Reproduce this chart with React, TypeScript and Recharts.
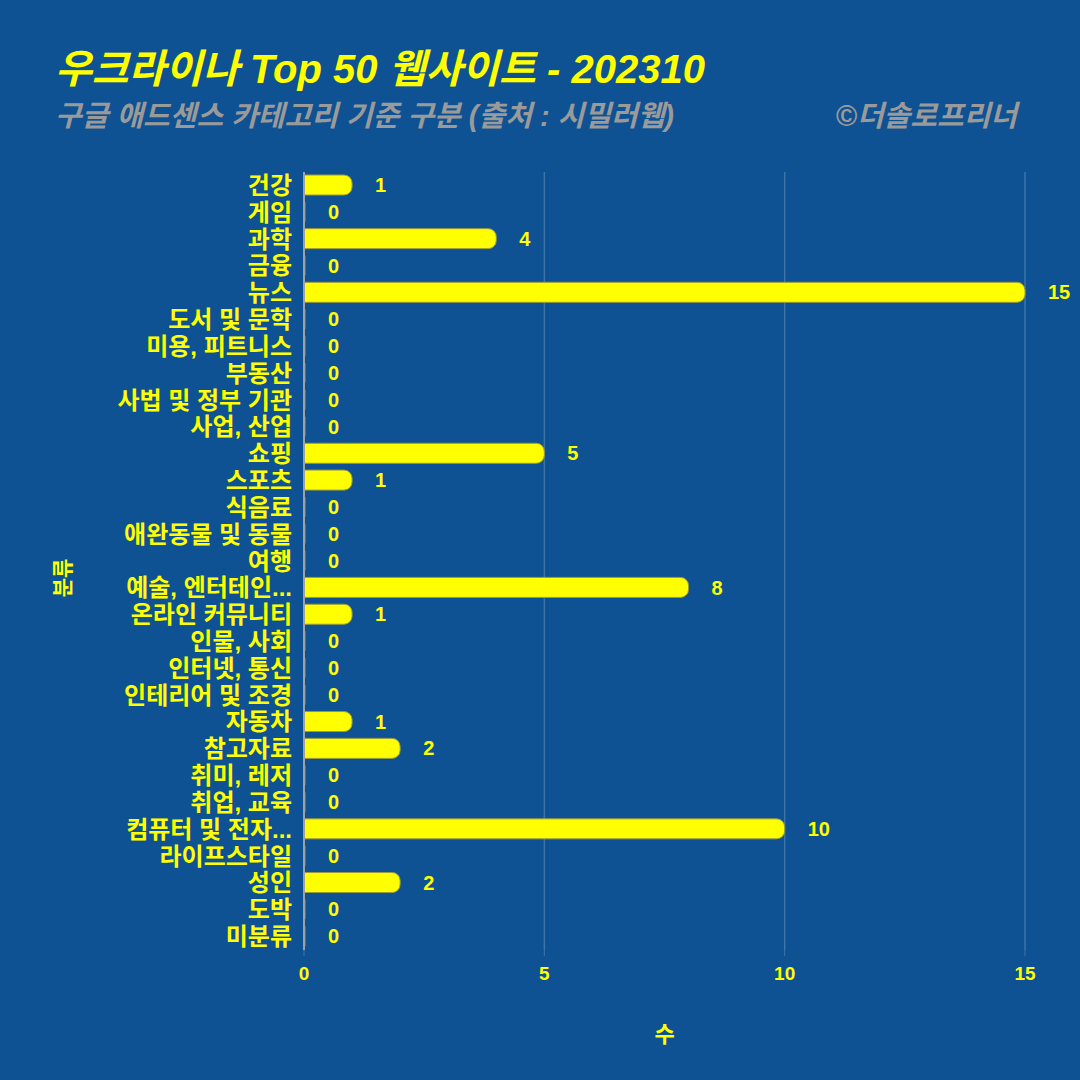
import React from 'react';
import { BarChart, Bar, XAxis, YAxis, CartesianGrid, LabelList } from 'recharts';

const categories = [
  '건강', '게임', '과학', '금융', '뉴스', '도서 및 문학', '미용, 피트니스', '부동산',
  '사법 및 정부 기관', '사업, 산업', '쇼핑', '스포츠', '식음료', '애완동물 및 동물', '여행',
  '예술, 엔터테인...', '온라인 커뮤니티', '인물, 사회', '인터넷, 통신', '인테리어 및 조경',
  '자동차', '참고자료', '취미, 레저', '취업, 교육', '컴퓨터 및 전자...', '라이프스타일',
  '성인', '도박', '미분류',
];
const counts = [1, 0, 4, 0, 15, 0, 0, 0, 0, 0, 5, 1, 0, 0, 0, 8, 1, 0, 0, 0, 1, 2, 0, 0, 10, 0, 2, 0, 0];
const xTicks = [0, 5, 10, 15];

const data = categories.map((name, i) => ({ name, value: counts[i] }));

const FONT = '"Liberation Sans", "Noto Sans CJK KR", sans-serif';
const YELLOW = '#FFFF00';
const BG = '#0E5293';

const YLabel = (props: any) => {
  const { viewBox } = props;
  const cy = viewBox.y + viewBox.height / 2 + 17;
  return (
    <text x={62} y={cy} transform={`rotate(-90, 62, ${cy})`} textAnchor="middle" dominantBaseline="central"
      fill={YELLOW} fontFamily={FONT} fontWeight="bold" fontSize={21}>분류</text>
  );
};

export default function App() {
  return (
    <div style={{ position: 'absolute', left: 0, top: 0, width: 1080, height: 1080, background: BG, fontFamily: FONT }}>
      <div style={{ position: 'absolute', left: 55, top: 44, color: YELLOW, fontSize: 40, fontWeight: 'bold', fontStyle: 'italic', whiteSpace: 'nowrap', lineHeight: '50px' }}>
        우크라이나 Top 50 웹사이트 - 202310
      </div>
      <div style={{ position: 'absolute', left: 55, top: 98, color: '#9a9a9a', fontSize: 29, fontWeight: 'bold', fontStyle: 'italic', whiteSpace: 'nowrap', lineHeight: '36px' }}>
        구글 애드센스 카테고리 기준 구분 (출처 : 시밀러웹)
      </div>
      <div style={{ position: 'absolute', right: 63, top: 98, color: '#9a9a9a', fontSize: 29, fontWeight: 'bold', fontStyle: 'italic', whiteSpace: 'nowrap', lineHeight: '36px' }}>
        ©더솔로프리너
      </div>
      <div style={{ position: 'absolute', left: 0, top: 0 }}>
        <BarChart width={1080} height={1080} data={data} layout="vertical"
          margin={{ top: 172, right: 55, bottom: 70, left: 0 }} barSize={20}>
          <CartesianGrid horizontal={false} vertical={true} stroke="#3D74AA" strokeWidth={1.5} />
          <XAxis type="number" domain={[0, 15]} ticks={xTicks} height={60}
            axisLine={false} tickLine={{ stroke: '#3D74AA' }} tickSize={6} tickMargin={11}
            tick={{ fill: YELLOW, fontSize: 19, fontWeight: 'bold', fontFamily: FONT }}
            label={{ value: '수', position: 'insideBottom', offset: -32, fill: YELLOW, fontSize: 22, fontWeight: 'bold', fontFamily: FONT }} />
          <YAxis type="category" dataKey="name" width={304} interval={0}
            axisLine={{ stroke: '#A0A0A0', strokeWidth: 2 }} tickLine={false} tickMargin={6}
            tick={{ fill: YELLOW, fontSize: 24, fontWeight: 'bold', fontFamily: FONT }}
            label={<YLabel />} />
          <Bar dataKey="value" fill={YELLOW} stroke="#9A9A40" strokeWidth={1} radius={[0, 8, 8, 0]} minPointSize={1} isAnimationActive={false}>
            <LabelList dataKey="value" position="right" offset={23}
              style={{ fill: YELLOW, fontSize: 20, fontWeight: 'bold', fontFamily: FONT }} />
          </Bar>
        </BarChart>
      </div>
    </div>
  );
}
